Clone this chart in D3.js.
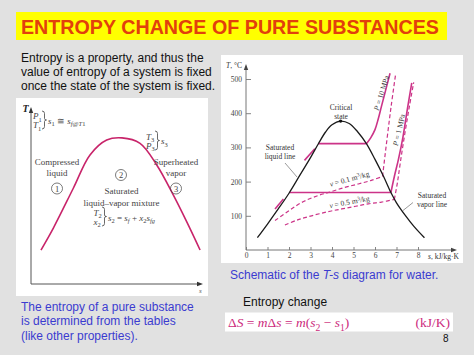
<!DOCTYPE html>
<html><head><meta charset="utf-8">
<script src="https://cdn.jsdelivr.net/npm/d3@7"></script>
<style>body{margin:0;background:#e1e1e1}svg{display:block}</style>
</head><body><svg id="c" width="474" height="355"></svg>
<script>
// ---------- data ----------
const titleText = "ENTROPY CHANGE OF PURE SUBSTANCES";
const introLines = ["Entropy is a property, and thus the", "value of entropy of a system is fixed", "once the state of the system is fixed."];
const noteLines = ["The entropy of a pure substance", "is determined from the tables", "(like other properties)."];
const captionParts = [["Schematic of the ", ""], ["T-s", "i"], [" diagram for water.", ""]];
const changeLabel = "Entropy change";
const pageNumber = "8";

// left schematic bell curve (s, T in arbitrary units 0..10)
const bellCurve = [[0.58,1.93],[1.30,3.18],[2.46,5.44],[3.43,7.33],[4.40,8.18],[5.29,8.30],[6.34,7.99],[7.31,6.76],[8.27,5.06],[9.05,3.54],[9.83,1.93]];

// right T-s diagram for water (s in kJ/kg·K, T in °C)
const sTicks = [0,1,2,3,4,5,6,7,8];
const tTicks = [100,200,300,400,500];
const domeLiquid = [[0.53,36],[1.0,76],[1.5,120],[2.0,166],[2.5,218],[3.0,270],[3.36,310],[3.7,345],[4.0,366],[4.4,377]];
const domeVapor  = [[4.4,377],[4.8,370],[5.2,345],[5.6,311],[6.0,265],[6.4,215],[6.74,168],[7.0,138],[7.4,102],[7.8,70],[8.3,36]];
const criticalPoint = [4.4,377];
const p10Liquid = [[2.72,262],[3.2,296]];
const p10Sat    = [[3.36,311],[5.6,311]];
const p10Super  = [[5.6,311],[5.8,328],[6.0,352],[6.15,383],[6.3,420],[6.47,461],[6.7,517]];
const p1Liquid  = [[1.35,120],[1.74,149]];
const p1Sat     = [[2.01,168],[6.74,168]];
const p1Super   = [[6.74,168],[6.9,215],[7.09,265],[7.3,330],[7.5,410],[7.71,489]];
const v01Wet    = [[1.35,86],[2.0,115],[2.59,139],[3.3,158],[3.98,171],[4.6,183],[5.22,193],[5.8,203],[6.35,215]];
const v01Super  = [[6.35,215],[6.55,320],[6.75,420],[6.95,510]];
const v05Wet    = [[1.81,73],[2.4,88],[3.05,100],[3.8,112],[4.45,120],[5.1,128],[5.69,135],[6.3,140],[6.9,148]];
const v05Super  = [[6.9,148],[7.05,200],[7.2,265],[7.4,345],[7.6,420],[7.8,490]];

// ---------- drawing ----------
const SANS = "'Liberation Sans', Arial, sans-serif";
const SERIF = "'Liberation Serif', 'Times New Roman', serif";
const MAG = "#cc3388", CRIM = "#c8246a", BLUE = "#3b3bd0", GREY = "#444";
const svg = d3.select("#c");
svg.append("rect").attr("width",474).attr("height",355).attr("fill","#e1e1e1");

function rich(sel, x, y, parts, size, fill, anchor, family) {
  const t = sel.append("text").attr("x",x).attr("y",y).attr("font-size",size)
    .attr("fill",fill).attr("text-anchor",anchor||"start").attr("font-family",family||SERIF);
  let off = 0;
  parts.forEach(p => {
    const txt = p[0], st = p[1] || "";
    const target = st.includes("sub") ? size*0.3 : (st.includes("sup") ? -size*0.35 : 0);
    const ts = t.append("tspan").text(txt).attr("dy", target - off);
    off = target;
    if (st.includes("sub") || st.includes("sup")) ts.attr("font-size", size*0.72);
    if (st.includes("i")) ts.attr("font-style","italic");
  });
  return t;
}
function brace(sel, x, y0, y1) {
  const ym = (y0+y1)/2;
  sel.append("path").attr("fill","none").attr("stroke",GREY).attr("stroke-width",0.8)
    .attr("d",`M${x},${y0} Q${x+2.5},${y0} ${x+2.5},${y0+2.5} L${x+2.5},${ym-1.5} Q${x+2.5},${ym} ${x+4.5},${ym} Q${x+2.5},${ym} ${x+2.5},${ym+1.5} L${x+2.5},${y1-2.5} Q${x+2.5},${y1} ${x},${y1}`);
}
function arrowHead(sel, x, y, dir, fill) {
  const pts = dir === "up" ? [[x,y],[x-2.2,y+6],[x+2.2,y+6]] : [[x,y],[x-6,y-2.2],[x-6,y+2.2]];
  sel.append("path").attr("d","M"+pts.join("L")+"Z").attr("fill",fill);
}

// title banner
svg.append("rect").attr("x",16).attr("y",12).attr("width",431).attr("height",28).attr("fill","#ffff00");
svg.append("text").attr("x",21).attr("y",33.5).attr("font-family",SANS).attr("font-weight","bold")
  .attr("font-size",21).attr("fill","#e2400c").attr("textLength",418).attr("lengthAdjust","spacingAndGlyphs").text(titleText);

// intro text
svg.append("g").selectAll("text").data(introLines).join("text")
  .attr("x",21).attr("y",(d,i)=>61.5+i*14.2).attr("font-family",SANS).attr("font-size",12).attr("fill","#111").text(d=>d);

// ---- left panel ----
const L = svg.append("g");
L.append("rect").attr("x",16).attr("y",98).attr("width",192).attr("height",198).attr("fill","#fff");
const xL = d3.scaleLinear().domain([0,10]).range([31,203]);
const yL = d3.scaleLinear().domain([0,10]).range([284,108]);
L.append("line").attr("x1",xL(0)).attr("x2",xL(0)).attr("y1",yL(0)).attr("y2",yL(10)+4).attr("stroke","#555").attr("stroke-width",1);
L.append("line").attr("x1",xL(0)).attr("x2",xL(10)-3).attr("y1",yL(0)).attr("y2",yL(0)).attr("stroke","#555").attr("stroke-width",1);
arrowHead(L, xL(0), yL(10)-1, "up", "#333");
arrowHead(L, xL(10), yL(0), "right", "#333");
rich(L, 22.5, 111.5, [["T","i"]], 10, "#222").attr("font-weight","bold");
rich(L, 199, 293, [["s","i"]], 7, "#555");
L.append("path").datum(bellCurve).attr("fill","none").attr("stroke",CRIM).attr("stroke-width",1.6)
  .attr("d", d3.line().x(d=>xL(d[0])).y(d=>yL(d[1])).curve(d3.curveCatmullRom));
// state labels
rich(L, 33, 119, [["P","i"],["1","sub"]], 9, GREY);
rich(L, 33, 128, [["T","i"],["1","sub"]], 9, GREY);
brace(L, 42, 111, 129);
rich(L, 48, 123.5, [["s","i"],["1","sub"],[" ≅ ",""],["s","i"],["f","i sub"],["@","sub"],["T","i sub"],["1","sub"]], 9, GREY);
rich(L, 57, 164.5, [["Compressed",""]], 9, GREY, "middle");
rich(L, 57, 176, [["liquid",""]], 9, GREY, "middle");
rich(L, 176, 164.5, [["Superheated",""]], 9, GREY, "middle");
rich(L, 176, 176, [["vapor",""]], 9, GREY, "middle");
rich(L, 121.5, 194, [["Saturated",""]], 9, GREY, "middle");
rich(L, 121.5, 205.5, [["liquid–vapor mixture",""]], 9, GREY, "middle");
[[57,188.5,"1"],[121,175,"2"],[176,188.5,"3"]].forEach(c=>{
  L.append("circle").attr("cx",c[0]).attr("cy",c[1]).attr("r",5.5).attr("fill","none").attr("stroke",GREY).attr("stroke-width",0.7);
  L.append("text").attr("x",c[0]).attr("y",c[1]+3).attr("text-anchor","middle").attr("font-family",SERIF).attr("font-size",8.5).attr("fill",GREY).text(c[2]);
});
rich(L, 146, 139.5, [["T","i"],["3","sub"]], 9, GREY);
rich(L, 146, 148.5, [["P","i"],["3","sub"]], 9, GREY);
brace(L, 155, 131, 150);
rich(L, 161, 144, [["s","i"],["3","sub"]], 9, GREY);
rich(L, 93.5, 215.5, [["T","i"],["2","sub"]], 9, GREY);
rich(L, 93.5, 224.5, [["x","i"],["2","sub"]], 9, GREY);
brace(L, 102, 207, 226);
rich(L, 108, 220.5, [["s","i"],["2","sub"],[" = ",""],["s","i"],["f","i sub"],[" + ",""],["x","i"],["2","sub"],["s","i"],["fg","i sub"]], 9, GREY);

// note text (blue)
svg.append("g").selectAll("text").data(noteLines).join("text")
  .attr("x",21).attr("y",(d,i)=>311+i*14.3).attr("font-family",SANS).attr("font-size",12).attr("fill",BLUE).text(d=>d);

// ---- right panel ----
const R = svg.append("g");
R.append("rect").attr("x",221).attr("y",55).attr("width",242).attr("height",208).attr("fill","#fff");
const xR = d3.scaleLinear().domain([0,8]).range([246,418]);
const yR = d3.scaleLinear().domain([0,500]).range([250,79]);
const ax = R.append("g").attr("transform",`translate(0,${yR(0)})`)
  .call(d3.axisBottom(xR).tickValues(sTicks).tickSizeInner(-3).tickSizeOuter(0).tickPadding(3).tickFormat(d3.format("d")));
const ay = R.append("g").attr("transform",`translate(${xR(0)},0)`)
  .call(d3.axisLeft(yR).tickValues(tTicks).tickSizeInner(-5).tickSizeOuter(0).tickPadding(4).tickFormat(d3.format("d")));
[ax, ay].forEach(a=>{
  a.select(".domain").remove();
  a.selectAll("line").attr("stroke","#666").attr("stroke-width",0.8);
  a.selectAll("text").attr("font-family",SERIF).attr("font-size",7.5).attr("fill","#444");
});
R.append("line").attr("x1",xR(0)).attr("x2",452).attr("y1",yR(0)).attr("y2",yR(0)).attr("stroke","#777").attr("stroke-width",1);
R.append("line").attr("x1",xR(0)).attr("x2",xR(0)).attr("y1",yR(0)).attr("y2",69).attr("stroke","#777").attr("stroke-width",1);
arrowHead(R, 457, yR(0), "right", "#444");
arrowHead(R, xR(0), 64, "up", "#444");
rich(R, 226, 67.5, [["T","i"],[", °C",""]], 7.5, "#333");
rich(R, 428, 258.5, [["s","i"],[", kJ/kg·K",""]], 7.5, "#333");

const lineR = d3.line().x(d=>xR(d[0])).y(d=>yR(d[1]));
const lineRc = d3.line().x(d=>xR(d[0])).y(d=>yR(d[1])).curve(d3.curveCatmullRom);
// isobars and constant-volume lines
[v01Wet, v01Super, v05Wet, v05Super].forEach(d=>{
  R.append("path").datum(d).attr("fill","none").attr("stroke",MAG).attr("stroke-width",1.2)
    .attr("stroke-dasharray","4,2.5").attr("d",lineRc);
});
[p10Liquid, p10Sat, p10Super, p1Liquid, p1Sat, p1Super].forEach(d=>{
  R.append("path").datum(d).attr("fill","none").attr("stroke",MAG).attr("stroke-width",1.6).attr("d",lineRc);
});
// saturation dome
R.append("path").datum(domeLiquid.concat(domeVapor.slice(1))).attr("fill","none").attr("stroke","#1a1a1a")
  .attr("stroke-width",1.3).attr("d",lineRc);
R.append("circle").attr("cx",xR(criticalPoint[0])).attr("cy",yR(criticalPoint[1])).attr("r",1.6).attr("fill","#111");

// labels
rich(R, 341, 109.5, [["Critical",""]], 7.5, "#333", "middle");
rich(R, 341, 118.5, [["state",""]], 7.5, "#333", "middle");
rich(R, 280, 149.5, [["Saturated",""]], 7.5, "#333", "middle");
rich(R, 280, 159, [["liquid line",""]], 7.5, "#333", "middle");
R.append("line").attr("x1",285).attr("y1",163).attr("x2",297).attr("y2",177).attr("stroke","#555").attr("stroke-width",0.6);
rich(R, 432, 197.5, [["Saturated",""]], 7.5, "#333", "middle");
rich(R, 432, 207, [["vapor line",""]], 7.5, "#333", "middle");
R.append("line").attr("x1",403).attr("y1",210.5).attr("x2",413).attr("y2",202.5).attr("stroke","#555").attr("stroke-width",0.6);
function rotLabel(cx, cy, ang, parts) {
  const g = R.append("g").attr("transform",`translate(${cx},${cy}) rotate(${ang})`);
  rich(g, 0, 2.5, parts, 7.5, "#333", "middle");
}
rotLabel(349.5, 179, -15, [["v","i"],[" = 0.1 m",""],["3","sup"],["/kg",""]]);
rotLabel(349.5, 202, -10.5, [["v","i"],[" = 0.5 m",""],["3","sup"],["/kg",""]]);
rotLabel(381.5, 93, -73, [["P","i"],[" = 10 MPa",""]]);
rotLabel(399, 130, -77, [["P","i"],[" = 1 MPa",""]]);

// caption
rich(svg, 230, 279, captionParts, 12, BLUE, "start", SANS);

// entropy change
svg.append("text").attr("x",243).attr("y",306).attr("font-family",SANS).attr("font-size",12).attr("fill","#111").text(changeLabel);
svg.append("rect").attr("x",225).attr("y",312.5).attr("width",228).attr("height",19).attr("fill","#fff");
rich(svg, 228, 326.5, [["Δ",""],["S","i"],[" = ",""],["m","i"],["Δ",""],["s","i"],[" = ",""],["m","i"],["(",""],["s","i"],["2","sub"],[" − ",""],["s","i"],["1","sub"],[")",""]], 13.5, "#cc2a7c");
rich(svg, 450, 326.5, [["(kJ/K)",""]], 13.5, "#cc2a7c", "end");
svg.append("text").attr("x",443).attr("y",342).attr("font-family",SANS).attr("font-size",10).attr("fill","#111").text(pageNumber);
</script></body></html>
